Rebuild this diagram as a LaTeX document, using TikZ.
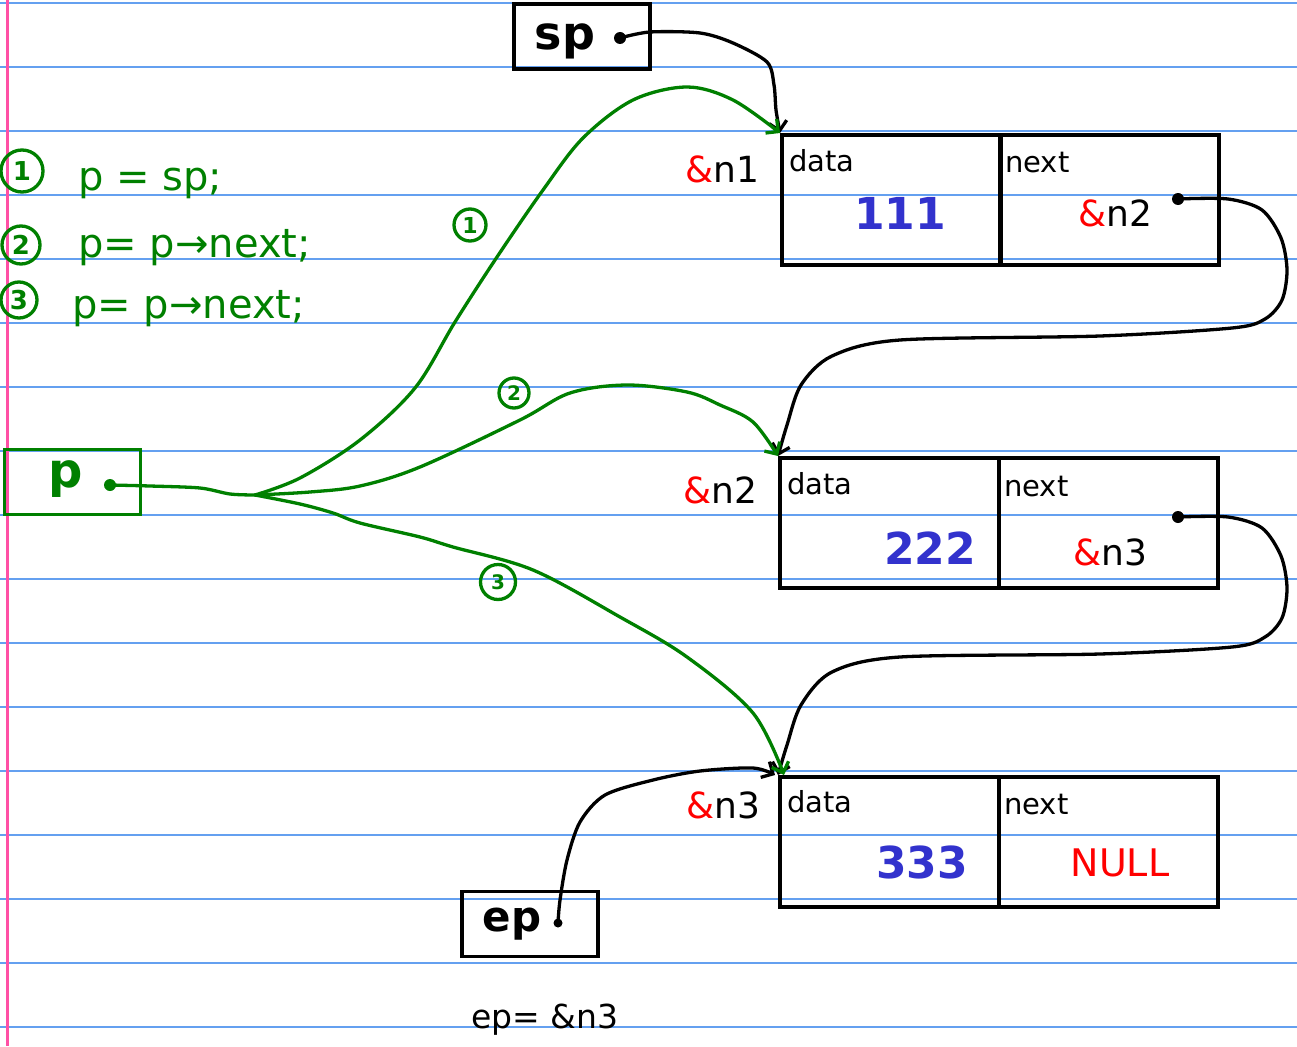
\documentclass[tikz,border=0pt]{standalone}
\usepackage{fontspec}
\setmainfont{DejaVu Sans}
\usetikzlibrary{arrows.meta}
\definecolor{rulec}{RGB}{100,160,240}
\definecolor{marginc}{RGB}{255,80,165}
\definecolor{pgreen}{RGB}{0,128,0}
\definecolor{pblue}{RGB}{50,50,205}
\definecolor{pred}{RGB}{255,0,0}
\newcommand{\fsz}[1]{\fontsize{#1}{#1}\selectfont}
\newcommand{\amp}{{\color{pred}\&}}
\begin{document}
\begin{tikzpicture}[x=1pt,y=-1pt,
  cell/.style={draw=black, line width=3.8pt, minimum width=219pt, minimum height=130pt, inner sep=0pt, anchor=north west},
  varbox/.style={draw, line width=3.8pt, minimum width=136pt, minimum height=65pt, inner sep=0pt},
  dot/.style={circle, fill, inner sep=0pt, minimum size=12pt},
  conn/.style={line width=3.3pt, -{Straight Barb[length=9pt,width=18pt,line width=3.3pt]}, line cap=round, line join=round},
  gconn/.style={conn, draw=pgreen},
  field/.style={font=\fsz{29}, inner sep=0pt, anchor=base west},
  val/.style={font=\fsz{44}\bfseries, text=pblue, inner sep=0pt, anchor=base},
  addr/.style={font=\fsz{36}, inner sep=0pt, anchor=base},
  code/.style={font=\fsz{40}, text=pgreen, inner sep=0pt, anchor=base west},
  num/.style={circle, draw=pgreen, line width=3.3pt, text=pgreen, inner sep=0pt, font=\fsz{26}\bfseries},
]
\useasboundingbox (0,0) rectangle (1297,1046);
% paper
\fill[white] (0,0) rectangle (1297,1046);
\foreach \k in {0,...,16} {
  \draw[rulec, line width=1.8pt] (0,3+64*\k) -- (1297,3+64*\k);
}
\draw[marginc, line width=3pt] (7,0) -- (7,1046);

% code on the left
\node[num, minimum size=42pt] (c1) at (22,171) {1};
\node[code] (t1) at (78,190) {p = sp;};
\node[num, minimum size=38pt] (c2) at (21,245) {2};
\node[code] (t2) at (78,257) {p= p→next;};
\node[num, minimum size=36pt] (c3) at (19,300) {3};
\node[code] (t3) at (72,318) {p= p→next;};

% pointer boxes
\node[varbox] (spbox) at (582,36.5) {};
\node[font=\fsz{46}\bfseries, inner sep=0pt, anchor=base] (sptext) at (565,50) {sp};
\node[dot] (spdot) at (620,38) {};

\node[varbox, draw=pgreen] (pbox) at (72.5,482) {};
\node[font=\fsz{48}\bfseries, text=pgreen, inner sep=0pt, anchor=base] (ptext) at (66,487) {p};
\node[dot, fill=pgreen] (pdot) at (110,485) {};

\node[varbox] (epbox) at (530,924) {};
\node[font=\fsz{42}\bfseries, inner sep=0pt, anchor=base] (eptext) at (512,931) {ep};
\node[dot, minimum size=9pt] (epdot) at (558,923) {};
\node[font=\fsz{33}, inner sep=0pt, anchor=base] (epeq) at (545,1028) {ep= \&n3};

% node 1
\node[cell] (n1data) at (780,133) {};
\node[cell] (n1next) at (998,133) {};
\node[field] (n1dl) at (789,171) {data};
\node[field] (n1nl) at (1005,172) {next};
\node[val] (n1v) at (900,229) {111};
\node[addr] (n1n) at (1115,226) {\amp n2};
\node[dot] (n1dot) at (1178,199) {};
\node[addr] (a1) at (722,182) {\amp n1};

% node 2
\node[cell] (n2data) at (778,456) {};
\node[cell] (n2next) at (997,456) {};
\node[field] (n2dl) at (787,494) {data};
\node[field] (n2nl) at (1004,496) {next};
\node[val] (n2v) at (930,564) {222};
\node[addr] (n2n) at (1110,565) {\amp n3};
\node[dot] (n2dot) at (1178,517) {};
\node[addr] (a2) at (720,503) {\amp n2};

% node 3
\node[cell] (n3data) at (778,775) {};
\node[cell] (n3next) at (997,775) {};
\node[field] (n3dl) at (787,812) {data};
\node[field] (n3nl) at (1004,814) {next};
\node[val] (n3v) at (922,878) {333};
\node[font=\fsz{38}, text=pred, inner sep=0pt, anchor=base] (n3n) at (1120,876) {NULL};
\node[addr] (a3) at (723,818) {\amp n3};

% black connectors
\draw[conn] plot[smooth, tension=0.5] coordinates {(spdot.center) (650,32) (700,33) (733,43) (767,62) (774,85) (776,110) (n1data.north west)};
\draw[conn] plot[smooth, tension=0.5] coordinates {(n1dot.center) (1228,199) (1262,210) (1281,238) (1287,270) (1282,300) (1265,319) (1232,328) (1100,336) (900,340) (832,356) (801,385) (787,425) (n2data.north west)};
\draw[conn] plot[smooth, tension=0.5] coordinates {(n2dot.center) (1228,517) (1262,528) (1281,556) (1287,588) (1282,618) (1265,637) (1232,647) (1100,654) (900,657) (832,672) (801,705) (787,745) (n3data.north west)};
\draw[conn] plot[smooth, tension=0.5] coordinates {(epdot.center) (560,900) (567,860) (580,822) (605,795) (653,780) (700,771) (753,768) ([xshift=-3pt]n3data.north west)};

% green connectors
\coordinate (J) at (255,495);
\draw[pgreen, line width=3.3pt, line cap=round] plot[smooth, tension=0.5] coordinates {(pdot.center) (150,486) (200,488) (230,494) (J)};
\draw[gconn] plot[smooth, tension=0.55] coordinates {(J) (300,478) (360,440) (415,388) (455,322) (497,257) (543,190) (583,138) (633,100) (687,87) (733,100) (n1data.north west)};
\draw[gconn] plot[smooth, tension=0.55] coordinates {(J) (310,492) (360,486) (420,467) (520,420) (570,393) (627,385) (687,392) (720,405) (753,422) (n2data.north west)};
\draw[gconn] plot[smooth, tension=0.55] coordinates {(J) (300,504) (333,513) (360,523) (420,537) (453,547) (533,570) (620,617) (687,657) (753,713) ([xshift=6pt]n3data.north west)};

\node[num, minimum size=32pt, font=\fsz{22}\bfseries] (g1) at (470,225) {1};
\node[num, minimum size=30pt, font=\fsz{20}\bfseries] (g2) at (514,393) {2};
\node[num, minimum size=35pt, font=\fsz{20}\bfseries] (g3) at (498,582) {3};
\end{tikzpicture}
\end{document}
